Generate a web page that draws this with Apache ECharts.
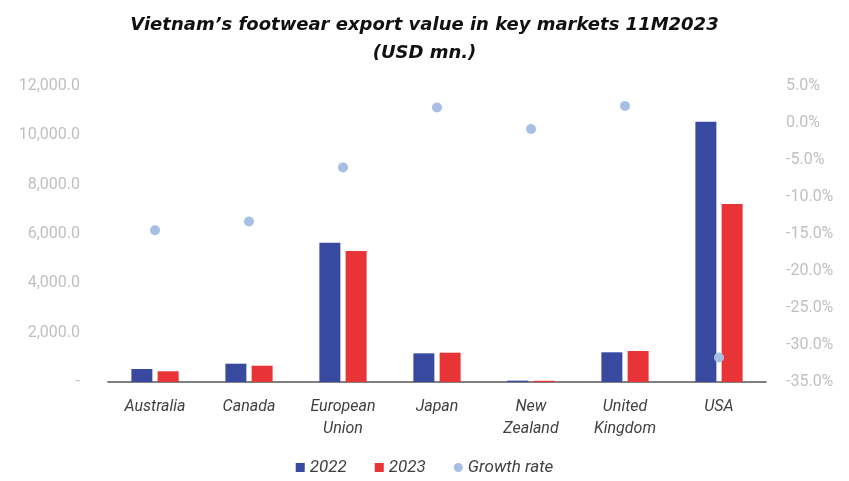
<!DOCTYPE html>
<html>
<head>
<meta charset="utf-8">
<script src="https://cdn.jsdelivr.net/npm/echarts@6/dist/echarts.min.js"></script>
<style>
  html, body { margin: 0; padding: 0; background: #fff; }
  #chart { width: 849px; height: 481px; }
</style>
</head>
<body>
<div id="chart"></div>
<script>
const markets = ['Australia', 'Canada', 'European\nUnion', 'Japan', 'New\nZealand', 'United\nKingdom', 'USA']
const value2022 = [527, 742, 5648, 1163, 55, 1204, 10554]
const value2023 = [434, 661, 5311, 1189, 50, 1257, 7216]
const growthRate = [-14.5, -13.3, -6.0, 2.1, -0.8, 2.3, -31.7]

const chart = echarts.init(document.getElementById('chart'))

const labelFont = 'Roboto'

const option = {
  animation: false,
  title: {
    text: 'Vietnam\u2019s footwear export value in key markets 11M2023\n(USD mn.)',
    left: 'center',
    top: 6,
    textStyle: {
      fontFamily: 'DejaVu Sans',
      fontStyle: 'italic',
      fontWeight: 'bold',
      fontSize: 18,
      lineHeight: 28,
      color: '#111'
    }
  },
  legend: {
    bottom: 0,
    left: 'center',
    itemWidth: 9,
    itemHeight: 9,
    itemGap: 28,
    textStyle: {
      fontFamily: labelFont,
      fontStyle: 'italic',
      fontSize: 17,
      color: '#404040'
    },
    data: [
      { name: '2022', icon: 'rect' },
      { name: '2023', icon: 'rect' },
      { name: 'Growth rate', icon: 'circle' }
    ]
  },
  grid: {
    left: 108,
    right: 83,
    top: 86,
    bottom: 99
  },
  xAxis: {
    type: 'category',
    data: markets,
    axisLine: { lineStyle: { color: '#808080', width: 2 } },
    axisTick: { show: false },
    axisLabel: {
      interval: 0,
      margin: 14,
      fontFamily: labelFont,
      fontStyle: 'italic',
      fontSize: 16,
      lineHeight: 22,
      color: '#404040'
    }
  },
  yAxis: [
    {
      type: 'value',
      min: 0,
      max: 12000,
      interval: 2000,
      axisLine: { show: false },
      axisTick: { show: false },
      splitLine: { show: false },
      axisLabel: {
        margin: 28,
        fontFamily: labelFont,
        fontSize: 16,
        color: '#c0c0c0',
        formatter: v => v === 0 ? '-' : v.toLocaleString('en-US', { minimumFractionDigits: 1, maximumFractionDigits: 1 })
      }
    },
    {
      type: 'value',
      min: -35,
      max: 5,
      interval: 5,
      axisLine: { show: false },
      axisTick: { show: false },
      splitLine: { show: false },
      axisLabel: {
        margin: 20,
        fontFamily: labelFont,
        fontSize: 16,
        color: '#c0c0c0',
        formatter: v => v.toFixed(1) + '%'
      }
    }
  ],
  series: [
    {
      name: '2022',
      type: 'bar',
      data: value2022,
      barWidth: 21,
      barGap: '25%',
      itemStyle: { color: '#374aa0' }
    },
    {
      name: '2023',
      type: 'bar',
      data: value2023,
      barWidth: 21,
      itemStyle: { color: '#e83436' }
    },
    {
      name: 'Growth rate',
      type: 'scatter',
      yAxisIndex: 1,
      data: growthRate,
      symbolSize: 10,
      itemStyle: { color: '#a7bfe2', opacity: 1 }
    }
  ]
}

chart.setOption(option)
</script>
</body>
</html>
